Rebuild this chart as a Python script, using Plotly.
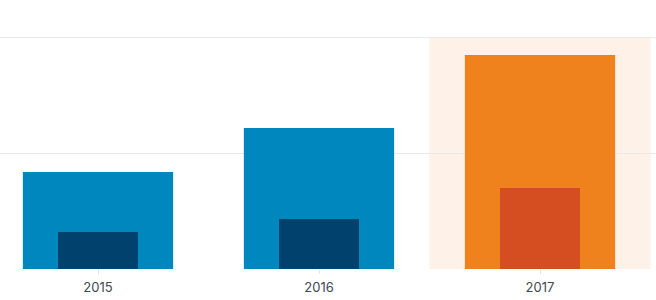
import plotly.graph_objects as go

years = ["2015", "2016", "2017"]
outer_values = [83.6, 121.6, 184.5]
inner_values = [31.9, 43.1, 69.8]
outer_colors = ["#0087be", "#0087be", "#f0821e"]
inner_colors = ["#00426e", "#00426e", "#d54e21"]
highlight_index = 2

xpos = list(range(len(years)))

fig = go.Figure()
fig.add_trace(go.Bar(x=xpos, y=outer_values, width=0.68,
                     marker=dict(color=outer_colors, line=dict(width=0)),
                     hoverinfo="skip"))
fig.add_trace(go.Bar(x=xpos, y=inner_values, width=0.362,
                     marker=dict(color=inner_colors, line=dict(width=0)),
                     hoverinfo="skip"))

fig.add_shape(type="rect", xref="x", yref="y",
              x0=highlight_index - 0.5, x1=highlight_index + 0.5, y0=0, y1=200,
              fillcolor="#fef1e8", line=dict(width=0), layer="below")

fig.update_layout(
    width=656, height=300,
    margin=dict(l=0, r=0, t=0, b=31),
    barmode="overlay",
    showlegend=False,
    plot_bgcolor="white", paper_bgcolor="white",
    font=dict(family="Inter", size=13, color="#3d4852"),
    xaxis=dict(range=[-98/221, 558/221], tickmode="array", tickvals=xpos,
               ticktext=years, showgrid=False, zeroline=False,
               ticks="outside", ticklen=4, tickcolor="#e1e4e8", tickwidth=1,
               ticklabelstandoff=2,
               showline=False, fixedrange=True),
    yaxis=dict(range=[0, 231.9], tickvals=[0, 100, 200], showticklabels=False,
               showgrid=True, gridcolor="#e8eaed", gridwidth=1,
               zeroline=False, fixedrange=True),
)

fig.write_html("out.html")
